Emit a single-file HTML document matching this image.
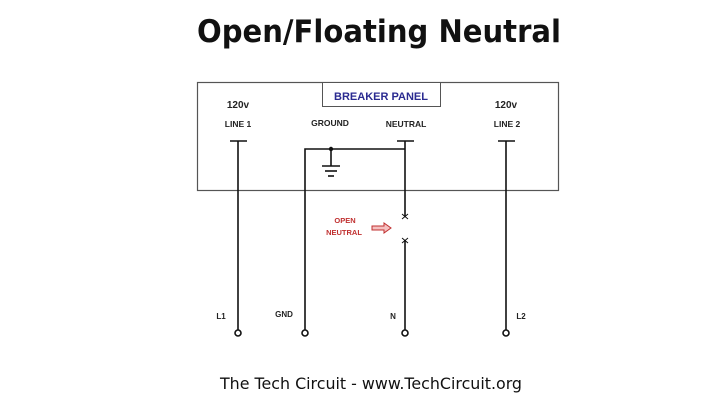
<!DOCTYPE html>
<html><head><meta charset="utf-8"><style>
html,body{margin:0;padding:0;background:#fff;}
svg{display:block;}
</style></head><body>
<svg width="720" height="406" viewBox="0 0 720 406" xmlns="http://www.w3.org/2000/svg">
<rect width="720" height="406" fill="#fff"/>
<text x="379" y="42" text-anchor="middle" font-family="'Comic Sans MS','DejaVu Sans',sans-serif" font-weight="bold" font-size="31" textLength="364" lengthAdjust="spacingAndGlyphs" fill="#111">Open/Floating Neutral</text>
<rect x="197.5" y="82.5" width="361" height="108" fill="none" stroke="#555" stroke-width="1.2"/>
<rect x="322.5" y="82.5" width="118" height="24" fill="#fff" stroke="#555" stroke-width="1"/>
<text x="381" y="100" text-anchor="middle" font-family="'Liberation Sans',sans-serif" font-weight="bold" font-size="11" fill="#2a2a90">BREAKER PANEL</text>
<g font-family="'Liberation Sans',sans-serif" font-weight="bold" fill="#222">
<text x="238" y="108" text-anchor="middle" font-size="10">120v</text>
<text x="238" y="127" text-anchor="middle" font-size="8.5">LINE 1</text>
<text x="330" y="126" text-anchor="middle" font-size="8.5">GROUND</text>
<text x="406" y="127" text-anchor="middle" font-size="8.5">NEUTRAL</text>
<text x="506" y="108" text-anchor="middle" font-size="10">120v</text>
<text x="507" y="127" text-anchor="middle" font-size="8.5">LINE 2</text>
<text x="221" y="319" text-anchor="middle" font-size="8">L1</text>
<text x="284" y="317" text-anchor="middle" font-size="8">GND</text>
<text x="393" y="319" text-anchor="middle" font-size="8">N</text>
<text x="521" y="319" text-anchor="middle" font-size="8">L2</text>
</g>
<g stroke="#111" stroke-width="1.6" fill="none">
<line x1="230" y1="141" x2="247" y2="141"/><line x1="238" y1="141" x2="238" y2="330"/>
<line x1="498" y1="141" x2="515" y2="141"/><line x1="506" y1="141" x2="506" y2="330"/>
<line x1="397" y1="141" x2="414" y2="141"/><line x1="405" y1="141" x2="405" y2="216"/>
<line x1="405" y1="240" x2="405" y2="330"/>
<polyline points="305,330 305,149 405,149"/>
<line x1="331" y1="149" x2="331" y2="166"/>
<line x1="322" y1="166" x2="340" y2="166"/>
<line x1="325" y1="171" x2="337" y2="171"/>
<line x1="328" y1="176" x2="334" y2="176"/>
<circle cx="238" cy="333" r="3"/><circle cx="305" cy="333" r="3"/>
<circle cx="405" cy="333" r="3"/><circle cx="506" cy="333" r="3"/>
</g>
<circle cx="331" cy="149" r="2.2" fill="#111"/>
<g stroke="#111" stroke-width="1">
<line x1="402" y1="214" x2="408" y2="219"/><line x1="408" y1="214" x2="402" y2="219"/>
<line x1="402" y1="238" x2="408" y2="243"/><line x1="408" y1="238" x2="402" y2="243"/>
</g>
<g font-family="'Liberation Sans',sans-serif" font-weight="bold" fill="#c03030" font-size="7.5">
<text x="345" y="223" text-anchor="middle">OPEN</text>
<text x="344" y="235" text-anchor="middle">NEUTRAL</text>
</g>
<path d="M372,226 h12 v-3 l7,5 l-7,5 v-3 h-12 z" fill="#f5c0c0" stroke="#c03030" stroke-width="1"/>
<text x="371" y="389" text-anchor="middle" font-family="'Comic Sans MS','DejaVu Sans',sans-serif" font-size="16" textLength="302" lengthAdjust="spacingAndGlyphs" fill="#111">The Tech Circuit - www.TechCircuit.org</text>
</svg>
</body></html>
